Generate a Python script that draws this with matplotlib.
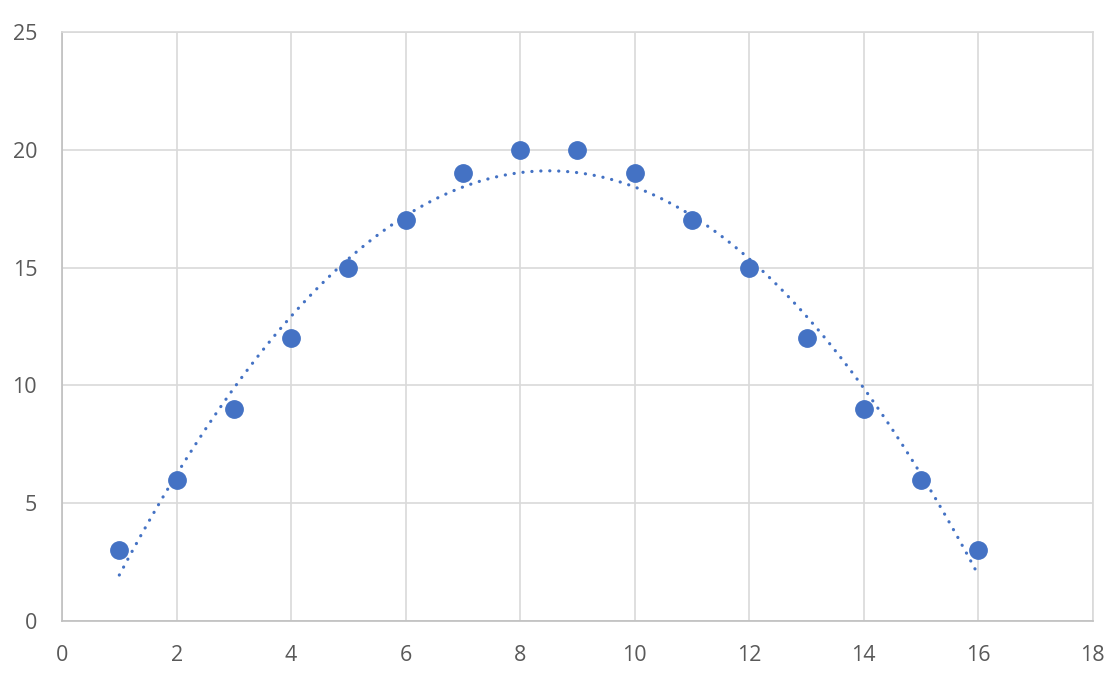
import matplotlib.pyplot as plt
import numpy as np

x_vals = [1, 2, 3, 4, 5, 6, 7, 8, 9, 10, 11, 12, 13, 14, 15, 16]
y_vals = [3, 6, 9, 12, 15, 17, 19, 20, 20, 19, 17, 15, 12, 9, 6, 3]
x_ticks = [0, 2, 4, 6, 8, 10, 12, 14, 16, 18]
y_ticks = [0, 5, 10, 15, 20, 25]

plt.rcParams['font.family'] = ['Open Sans', 'DejaVu Sans']

fig = plt.figure(figsize=(11.18, 6.81), dpi=100)
ax = fig.add_axes([0.0555, 0.0881, 0.922, 0.865])

# 二次多项式趋势线
coef = np.polyfit(x_vals, y_vals, 2)
xs = np.linspace(min(x_vals), max(x_vals), 400)
ax.plot(xs, np.polyval(coef, xs), color='#4472C4', lw=2.3,
        linestyle=(0, (0.05, 2.75)), dash_capstyle='round', zorder=2)

ax.plot(x_vals, y_vals, 'o', color='#4472C4', markersize=12.5, zorder=3)

ax.set_xlim(0, 18)
ax.set_ylim(0, 25)
ax.set_xticks(x_ticks)
ax.set_yticks(y_ticks)
ax.grid(True, color='#D9D9D9', lw=1.2)
ax.set_axisbelow(True)
for s in ax.spines.values():
    s.set_color('#D9D9D9')
    s.set_linewidth(1.2)
ax.spines['left'].set_color('#BFBFBF')
ax.spines['bottom'].set_color('#BFBFBF')
ax.tick_params(length=0, labelsize=15.5, colors='#595959')
ax.tick_params(axis='y', pad=18)
ax.tick_params(axis='x', pad=17)

plt.savefig('out.png', dpi=100)
